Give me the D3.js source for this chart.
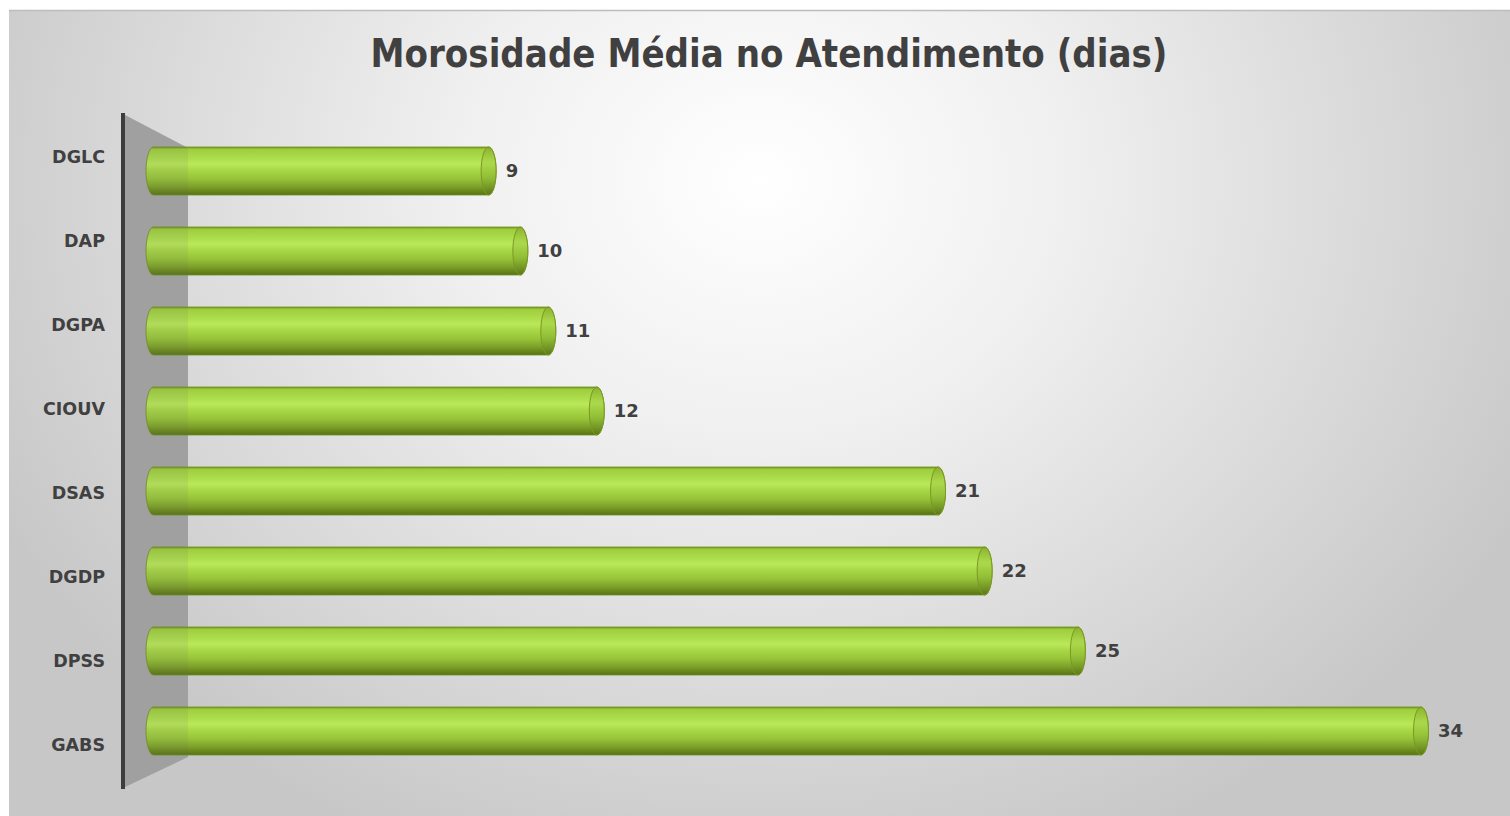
<!DOCTYPE html>
<html>
<head>
<meta charset="utf-8">
<script src="https://cdn.jsdelivr.net/npm/d3@7"></script>
<style>
  html, body { margin: 0; padding: 0; background: #ffffff; }
  svg { display: block; }
  text { font-family: "DejaVu Sans", Verdana, sans-serif; font-weight: bold; }
</style>
</head>
<body>
<svg id="chart" width="1510" height="816"></svg>
<script>
// ---- data ----
const title = "Morosidade Média no Atendimento (dias)";
const categories = ["DGLC", "DAP", "DGPA", "CIOUV", "DSAS", "DGDP", "DPSS", "GABS"];
const values = [9, 9.85, 10.6, 11.9, 21.05, 22.3, 24.8, 34];

// ---- layout ----
const W = 1510, H = 816;
const svg = d3.select("#chart");
const defs = svg.append("defs");

// background gradient
const bg = defs.append("radialGradient").attr("id", "bg")
  .attr("gradientUnits", "userSpaceOnUse")
  .attr("cx", 760).attr("cy", 180).attr("r", 860)
  .attr("gradientTransform", "translate(760,180) scale(1,0.85) translate(-760,-180)");
bg.append("stop").attr("offset", "0%").attr("stop-color", "#ffffff");
bg.append("stop").attr("offset", "35%").attr("stop-color", "#f0f0f0");
bg.append("stop").attr("offset", "70%").attr("stop-color", "#dadada");
bg.append("stop").attr("offset", "100%").attr("stop-color", "#c7c7c7");

svg.append("rect").attr("x", 9).attr("y", 10).attr("width", W - 9).attr("height", H - 10)
  .attr("fill", "url(#bg)");
svg.append("line").attr("x1", 9).attr("x2", W).attr("y1", 10.5).attr("y2", 10.5)
  .attr("stroke", "#bdbdbd").attr("stroke-width", 1.5);

// bar gradient (cylinder)
const bar = defs.append("linearGradient").attr("id", "barGrad")
  .attr("x1", 0).attr("y1", 0).attr("x2", 0).attr("y2", 1);
[["0%", "#76961e"], ["5%", "#9fcd3e"], ["22%", "#abdc4b"], ["36%", "#bae85a"],
 ["48%", "#a8d846"], ["66%", "#97c438"], ["82%", "#7ea22a"], ["93%", "#66851b"], ["100%", "#55721a"]]
  .forEach(([o, c]) => bar.append("stop").attr("offset", o).attr("stop-color", c));

const cap = defs.append("linearGradient").attr("id", "capGrad")
  .attr("x1", 0).attr("y1", 0).attr("x2", 0).attr("y2", 1);
[["0%", "#82a428"], ["30%", "#a2cf43"], ["60%", "#90bb36"], ["100%", "#5c7a18"]]
  .forEach(([o, c]) => cap.append("stop").attr("offset", o).attr("stop-color", c));

// scales
const x = d3.scaleLinear().domain([0, 34]).range([153, 1421]);
const yFront = d3.scaleBand().domain(categories).range([131, 771]).paddingInner(0.4).paddingOuter(0.2);
const yBack = d3.scaleBand().domain(categories).range([115, 787]);

// title
svg.append("text").attr("x", 769).attr("y", 67).attr("text-anchor", "middle")
  .attr("font-size", 39).attr("fill", "#404040")
  .attr("textLength", 797).attr("lengthAdjust", "spacingAndGlyphs")
  .text(title);

// wall
const wall = [[125, 115], [188, 148], [188, 757], [125, 787]];
svg.append("polygon").attr("points", wall.map(p => p.join(",")).join(" "))
  .attr("fill", "#a6a6a6");

// bars
const rx = 7.5;
const x0 = 146;
const g = svg.append("g");
categories.forEach((c, i) => {
  const yt = yFront(c), h = yFront.bandwidth(), yb = yt + h, ry = h / 2;
  const xe = x(values[i]);
  const path = `M${x0 + rx},${yt} L${xe},${yt} A${rx},${ry} 0 0 1 ${xe},${yb} L${x0 + rx},${yb} A${rx},${ry} 0 0 1 ${x0 + rx},${yt} Z`;
  g.append("path").attr("d", path).attr("fill", "url(#barGrad)")
    .attr("stroke", "#6f8f1c").attr("stroke-width", 0.8);
  g.append("ellipse").attr("cx", xe).attr("cy", yt + ry).attr("rx", rx).attr("ry", ry)
    .attr("fill", "url(#capGrad)").attr("fill-opacity", 0.6)
    .attr("stroke", "#7a9a22").attr("stroke-width", 1);
});

// faint wall overlay over bar ends
svg.append("polygon").attr("points", wall.map(p => p.join(",")).join(" "))
  .attr("fill", "#707070").attr("fill-opacity", 0.1);

// wall back edge line
svg.append("line").attr("x1", 123).attr("x2", 123).attr("y1", 113).attr("y2", 789)
  .attr("stroke", "#3d3d3d").attr("stroke-width", 4);

// category labels
svg.append("g").selectAll("text").data(categories).join("text")
  .attr("x", 105).attr("y", d => yBack(d) + yBack.bandwidth() / 2)
  .attr("dy", "0.36em").attr("text-anchor", "end")
  .attr("font-size", 17.5).attr("fill", "#404040")
  .text(d => d);

// value labels
svg.append("g").selectAll("text").data(values).join("text")
  .attr("x", d => x(d) + 17)
  .attr("y", (d, i) => yFront(categories[i]) + yFront.bandwidth() / 2)
  .attr("dy", "0.36em").attr("text-anchor", "start")
  .attr("font-size", 18).attr("fill", "#404040")
  .text(d => d3.format(".0f")(d));
</script>
</body>
</html>
